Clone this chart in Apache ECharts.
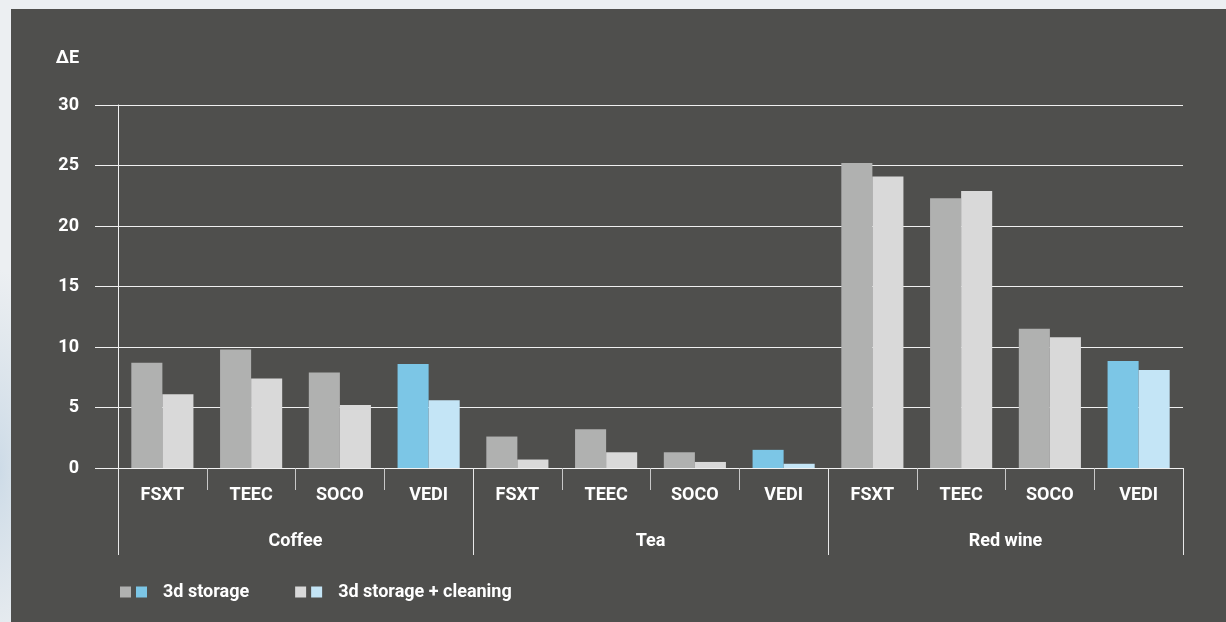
<!DOCTYPE html>
<html>
<head>
<meta charset="utf-8">
<script src="https://cdn.jsdelivr.net/npm/echarts@6/dist/echarts.min.js"></script>
<style>
  html, body { margin: 0; padding: 0; }
  body {
    width: 1226px; height: 622px; overflow: hidden; position: relative;
    background: radial-gradient(ellipse 50px 200px at 0px 470px, #cddbe7 0%, #e3e9ee 70%, #eceff2 100%);
  }
  #panel { position: absolute; left: 11px; top: 9px; width: 1215px; height: 613px; background: #4f4f4d; }
  #chart { position: absolute; left: 0; top: 0; width: 1226px; height: 622px; }
</style>
</head>
<body>
<div id="panel"></div>
<div id="chart"></div>
<script>
// sub categories (products) and their groups
const products = ['FSXT', 'TEEC', 'SOCO', 'VEDI', 'FSXT', 'TEEC', 'SOCO', 'VEDI', 'FSXT', 'TEEC', 'SOCO', 'VEDI'];
const groups = ['Coffee', 'Tea', 'Red wine'];

// delta E values
const storage = [8.7, 9.8, 7.9, 8.6, 2.6, 3.2, 1.3, 1.5, 25.2, 22.3, 11.5, 8.85];
const storageCleaning = [6.1, 7.4, 5.2, 5.6, 0.7, 1.3, 0.5, 0.35, 24.1, 22.9, 10.8, 8.1];

const seriesNames = ['3d storage', '3d storage + cleaning'];

const GRAY = '#b0b1b0', LIGHT_GRAY = '#d9d9d9';
const BLUE = '#7cc6e6', LIGHT_BLUE = '#c4e5f6';
const FONT = 'Roboto';

function withHighlight(values, base, hi) {
  return values.map((v, i) => ({
    value: v,
    itemStyle: { color: products[i] === 'VEDI' ? hi : base }
  }));
}

const chart = echarts.init(document.getElementById('chart'), null, { renderer: 'canvas' });

const labelStyle = { color: '#fff', fontFamily: FONT, fontWeight: 'bold', fontSize: 18 };

chart.setOption({
  animation: false,
  backgroundColor: 'transparent',
  textStyle: { fontFamily: FONT },
  grid: [
    { left: 95, right: 43, top: 105, bottom: 154 },
    { left: 118, right: 43, top: 105, bottom: 154 }
  ],
  legend: {
    left: 115, top: 578,
    itemWidth: 11, itemHeight: 11, itemGap: 46,
    icon: 'rect',
    selectedMode: false,
    data: seriesNames,
    formatter: name => name === seriesNames[0] ? '{b|}{t|' + name + '}' : '{c|}{t|' + name + '}',
    textStyle: {
      color: '#fff', fontFamily: FONT, fontWeight: 'bold', fontSize: 18,
      rich: {
        b: { width: 11, height: 11, backgroundColor: BLUE },
        c: { width: 11, height: 11, backgroundColor: LIGHT_BLUE },
        t: { color: '#fff', fontFamily: FONT, fontWeight: 'bold', fontSize: 18, padding: [0, 0, 0, 16] }
      }
    }
  },
  xAxis: [
    { gridIndex: 0, type: 'value', show: false, min: 0, max: 1 },
    {
      gridIndex: 1, type: 'category', data: products, position: 'bottom',
      axisLine: { show: true, lineStyle: { color: '#f2f2f2', width: 1 } },
      axisTick: { show: true, length: 22, lineStyle: { color: '#c8c8c8', width: 1 } },
      axisLabel: Object.assign({ margin: 18, interval: 0 }, labelStyle)
    },
    {
      gridIndex: 1, type: 'category', data: groups, position: 'bottom',
      axisLine: { show: false },
      axisTick: { show: true, length: 87, lineStyle: { color: '#e8e8e8', width: 1 } },
      axisLabel: Object.assign({ margin: 64, interval: 0 }, labelStyle)
    }
  ],
  yAxis: [
    {
      gridIndex: 0, type: 'value', min: 0, max: 30, interval: 5,
      name: 'ΔE', nameLocation: 'end', nameGap: 38,
      nameTextStyle: Object.assign({ align: 'right', padding: [0, 16, 0, 0] }, labelStyle),
      axisLine: { show: false }, axisTick: { show: false },
      axisLabel: Object.assign({ margin: 16 }, labelStyle),
      splitLine: { show: true, lineStyle: { color: '#f0f0f0', width: 1 } }
    },
    {
      gridIndex: 1, type: 'value', min: 0, max: 30, interval: 5,
      axisLine: { show: true, lineStyle: { color: '#f2f2f2', width: 1 } },
      axisTick: { show: false }, axisLabel: { show: false }, splitLine: { show: false }
    }
  ],
  series: [
    {
      name: seriesNames[0], type: 'bar', xAxisIndex: 1, yAxisIndex: 1,
      barGap: '0%', barCategoryGap: '30%',
      itemStyle: { color: GRAY },
      data: withHighlight(storage, GRAY, BLUE)
    },
    {
      name: seriesNames[1], type: 'bar', xAxisIndex: 1, yAxisIndex: 1,
      barGap: '0%', barCategoryGap: '30%',
      itemStyle: { color: LIGHT_GRAY },
      data: withHighlight(storageCleaning, LIGHT_GRAY, LIGHT_BLUE)
    }
  ]
});
</script>
</body>
</html>
